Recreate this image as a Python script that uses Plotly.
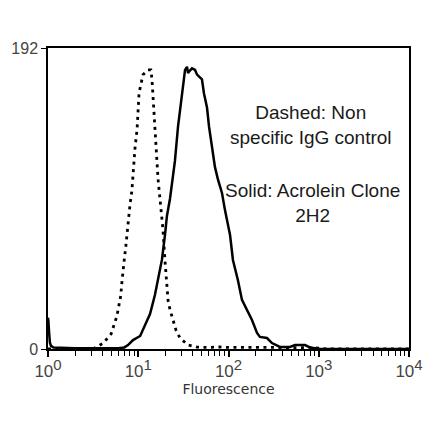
import plotly.graph_objects as go

# control histogram (dotted) - fluorescence vs. count
ctrl_x = [1, 3.0, 3.3, 4.1, 5.0, 5.4, 5.8, 6.0, 6.4, 6.6, 6.8, 7.0, 7.3, 7.5,
          7.7, 8.1, 8.5, 8.8, 9.2, 9.7, 9.9, 10.2, 10.7, 11.3, 12.8, 13.8,
          14.2, 14.6, 15.3, 16.1, 16.6, 17.4, 17.9, 18.8, 19.8, 20.8, 21.4,
          22.5, 24.3, 26.2, 29.0, 35.6, 45, 60, 80, 100, 150, 200, 300, 500,
          800, 1000, 1200, 10000]
ctrl_y = [0, 0, 0.6, 3.8, 9.6, 16, 21, 25.5, 34, 43, 52, 57, 66, 74, 82, 92,
          101, 114, 128, 140, 152, 163, 169, 175, 178, 178, 172, 159, 140,
          120, 108, 95, 89, 76, 56, 42, 31, 25, 18.5, 12, 7, 2.5, 1.2, 1, 1.3,
          1, 1, 1.2, 1, 0.8, 1, 0.5, 0, 0]

# acrolein clone 2H2 histogram (solid)
acr_x = [1.0, 1.01, 1.03, 1.05, 1.08, 1.15, 2, 4, 6, 7.0, 7.7, 8.75, 10.5,
         11.9, 13.5, 15.3, 16.6, 18.3, 19.8, 20.8, 22.5, 25.5, 27.6, 30.5,
         33.0, 34.7, 35.6, 36.5, 39.4, 42.6, 44.8, 50.8, 53.5, 57.8, 60.8,
         65.6, 70.8, 76.5, 84.7, 91.4, 104, 112, 127, 141, 160, 182, 207, 223,
         267, 303, 372, 480, 546, 704, 800, 1032, 10000]
acr_y = [20, 18, 10, 4, 2, 1, 0.5, 0.5, 0.5, 1, 2.5, 5.7, 8.3, 15.3, 22.3,
         34.4, 44, 57, 73, 85, 96, 120, 142, 163, 178, 180, 176, 177, 179,
         178, 175, 172, 163, 154, 142, 129, 116, 108, 99.5, 88.6, 72.7, 56.8,
         44, 31.3, 24.9, 18.5, 10.2, 7.7, 7, 3.8, 1.3, 1.3, 2.5, 2.5, 1, 0, 0]

decades = [1, 10, 100, 1000, 10000]
exps = ['0', '1', '2', '3', '4']
y_ticks = [0, 192]

x_labels = ['10<sup><span style="font-size:15px">%s</span></sup>' % e
            for e in exps]

fig = go.Figure()
fig.add_trace(go.Scatter(x=ctrl_x, y=ctrl_y, mode='lines',
                         line={'color': 'black', 'width': 2.8,
                               'dash': '3px,4.5px'}))
fig.add_trace(go.Scatter(x=acr_x, y=acr_y, mode='lines',
                         line={'color': 'black', 'width': 2.5}))

note_font = {'family': 'Liberation Sans', 'size': 19, 'color': '#1a1a1a'}
fig.add_annotation(text='Dashed: Non<br>specific IgG control',
                   xref='paper', yref='paper', x=0.729, y=0.745,
                   xanchor='center', yanchor='middle',
                   showarrow=False, align='center', font=note_font)
fig.add_annotation(text='Solid: Acrolein Clone<br>2H2',
                   xref='paper', yref='paper', x=0.733, y=0.485,
                   xanchor='center', yanchor='middle',
                   showarrow=False, align='center', font=note_font)

# page body has an 8px margin, so the figure is a bit smaller than the window
fig.update_layout(
    width=432, height=433,
    margin={'l': 40, 'r': 31, 't': 40, 'b': 92},
    paper_bgcolor='white', plot_bgcolor='white',
    showlegend=False,
    xaxis={'type': 'log', 'range': [0, 4], 'automargin': False,
           'tickmode': 'array', 'tickvals': decades, 'ticktext': x_labels,
           'showgrid': False, 'zeroline': False,
           'showline': True, 'linecolor': 'black', 'linewidth': 1.5,
           'mirror': True,
           'ticks': 'outside', 'ticklen': 6, 'tickwidth': 1.5,
           'tickcolor': 'black',
           'minor': {'ticks': 'outside', 'ticklen': 5, 'tickwidth': 1.3,
                     'tickcolor': 'black', 'dtick': 'D1'},
           'tickfont': {'family': 'Liberation Sans', 'size': 17,
                        'color': '#444'},
           'title': {'text': 'Fluorescence', 'standoff': 0,
                     'font': {'family': 'DejaVu Sans', 'size': 14,
                              'color': '#333'}}},
    yaxis={'range': [0, 192], 'tickvals': y_ticks, 'automargin': False,
           'showgrid': False,
           'zeroline': False, 'showline': True, 'linecolor': 'black',
           'linewidth': 1.5, 'mirror': True, 'ticks': 'outside',
           'ticklen': 5, 'tickcolor': 'black',
           'tickfont': {'family': 'Liberation Sans', 'size': 16,
                        'color': '#444'}},
)

fig.write_html('out.html')
